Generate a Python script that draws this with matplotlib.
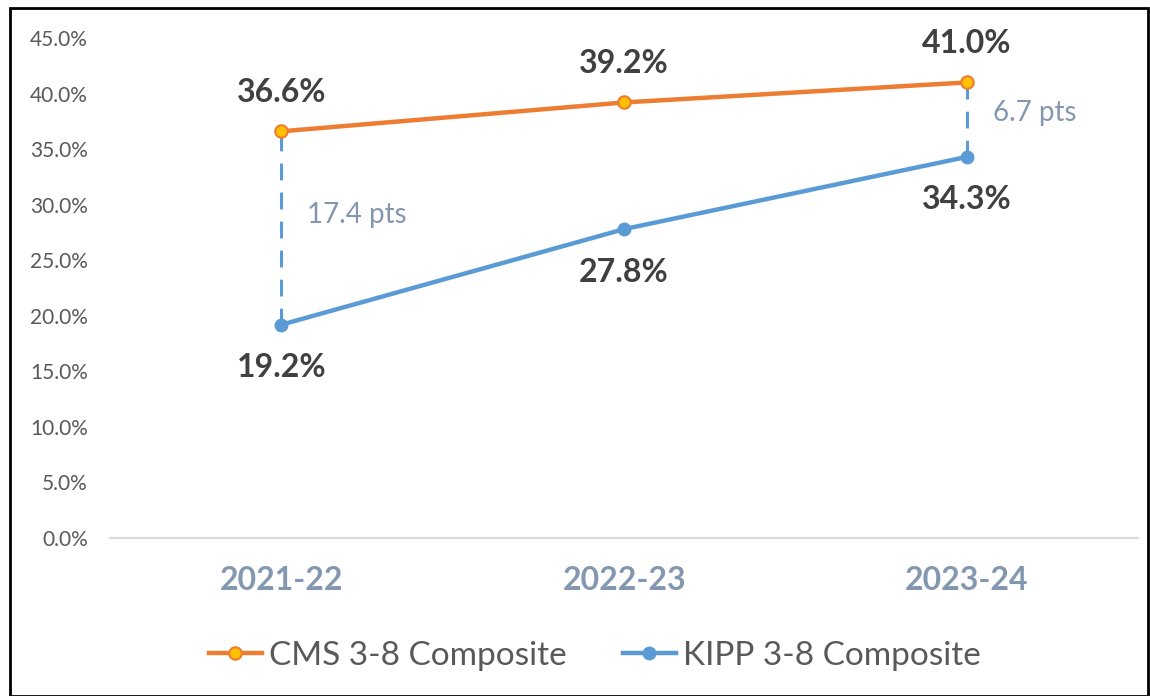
import matplotlib.pyplot as plt
from matplotlib.patches import Rectangle
from matplotlib.ticker import FuncFormatter

plt.rcParams['font.family'] = ['Lato', 'DejaVu Sans']

# Data
years = ["2021-22", "2022-23", "2023-24"]
cms = [36.6, 39.2, 41.0]
kipp = [19.2, 27.8, 34.3]
gap_labels = ["17.4 pts", None, "6.7 pts"]

orange = "#ED7D31"
blue = "#5B9BD5"
gray_txt = "#595959"
slate = "#8497B0"

fig = plt.figure(figsize=(11.5, 6.96), dpi=100)
ax = fig.add_axes([0.0957, 0.227, 0.894, 0.7184])

x = list(range(len(years)))

# dashed gap lines
gap_shift = [1.2, 0, 0.6]
for i, lab in enumerate(gap_labels):
    if lab is None:
        continue
    ax.plot([x[i], x[i]], [kipp[i], cms[i]], color=blue, lw=2.2,
            ls=(0, (5.5, 4)), zorder=1)
    ax.text(x[i] + 0.075, (cms[i] + kipp[i]) / 2 + gap_shift[i], lab,
            color=slate, fontsize=20, va="center", ha="left")

ax.plot(x, cms, color=orange, lw=3.2, marker="o", markersize=9,
        markerfacecolor="#FFC000", markeredgecolor=orange, markeredgewidth=1.5,
        label="CMS 3-8 Composite", zorder=3)
ax.plot(x, kipp, color=blue, lw=3.2, marker="o", markersize=9,
        markerfacecolor=blue, markeredgecolor=blue,
        label="KIPP 3-8 Composite", zorder=3)

for i in x:
    ax.annotate(f"{cms[i]:.1f}%", (x[i], cms[i]), xytext=(0, 28),
                textcoords="offset points", ha="center", va="center",
                fontsize=23, fontweight="bold", color="#404040")
    ax.annotate(f"{kipp[i]:.1f}%", (x[i], kipp[i]), xytext=(0, -31),
                textcoords="offset points", ha="center", va="center",
                fontsize=23, fontweight="bold", color="#404040")

ax.set_xlim(-0.5, 2.5)
ax.set_ylim(0, 45)
ax.set_yticks(range(0, 50, 5))
ax.yaxis.set_major_formatter(FuncFormatter(lambda v, p: f"{v:.1f}%"))
ax.set_xticks(x)
ax.set_xticklabels(years, fontsize=23, fontweight="bold", color=slate)
ax.tick_params(axis="y", labelsize=15, labelcolor=gray_txt, length=0, pad=16)
ax.tick_params(axis="x", length=0, pad=20)

for s in ["top", "right", "left"]:
    ax.spines[s].set_visible(False)
ax.spines["bottom"].set_color("#D9D9D9")
ax.spines["bottom"].set_linewidth(1.5)

leg = fig.legend(loc="center", bbox_to_anchor=(0.517, 0.058), ncol=2,
                 frameon=False, fontsize=24, handlelength=1.6,
                 handletextpad=0.2, columnspacing=1.7)
for t in leg.get_texts():
    t.set_color(gray_txt)

fig.patches.append(Rectangle((0.009, 0.0), 0.989, 0.988, transform=fig.transFigure,
                             fill=False, edgecolor="black", lw=2))

plt.savefig("out.png", dpi=100)
plt.close()
